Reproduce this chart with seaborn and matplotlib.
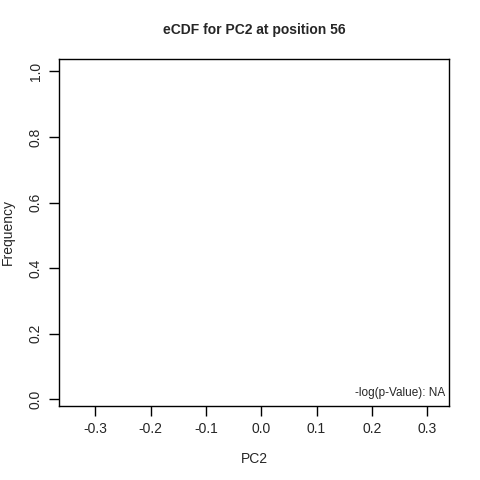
import numpy as np
import pandas as pd
import matplotlib
matplotlib.use("Agg")
import matplotlib.pyplot as plt
import seaborn as sns

# =========================
# Data (the eCDF is empty: no values at this position)
# =========================
pc2_values = []
p_value_label = "NA"
x_ticks = [-0.3, -0.2, -0.1, 0.0, 0.1, 0.2, 0.3]
y_ticks = [0.0, 0.2, 0.4, 0.6, 0.8, 1.0]

sns.set_style("white")
plt.rcParams['font.family'] = ['Liberation Sans', 'DejaVu Sans']

fig = plt.figure(figsize=(4.8, 4.8), dpi=100)
ax = fig.add_axes([0.1235, 0.1548, 0.8125, 0.7217])

df = pd.DataFrame({"PC2": pd.Series(pc2_values, dtype=float)})
if len(df) > 0:
    sns.ecdfplot(data=df, x="PC2", ax=ax, color="black")

ax.set_xlim(-0.365, 0.340)
ax.set_ylim(-0.0195, 1.037)
ax.set_xticks(x_ticks)
ax.set_xticklabels([f"{t:.1f}" for t in x_ticks])
ax.set_yticks(y_ticks)
ax.set_yticklabels([f"{t:.1f}" for t in y_ticks], rotation=90, va="center")

ax.tick_params(axis="both", direction="out", length=7, width=1, color="black",
               labelsize=10, pad=5, bottom=True, left=True)
for s in ax.spines.values():
    s.set_color("black")
    s.set_linewidth(1)

ax.set_xlabel("PC2", fontsize=10, labelpad=11)
ax.set_ylabel("Frequency", fontsize=10, labelpad=10)
ax.set_title("eCDF for PC2 at position 56", fontsize=10, fontweight="bold", pad=18)

ax.text(0.99, 0.018, f"-log(p-Value): {p_value_label}", transform=ax.transAxes,
        ha="right", va="bottom", fontsize=8.5)

fig.savefig("out.png", dpi=100)
